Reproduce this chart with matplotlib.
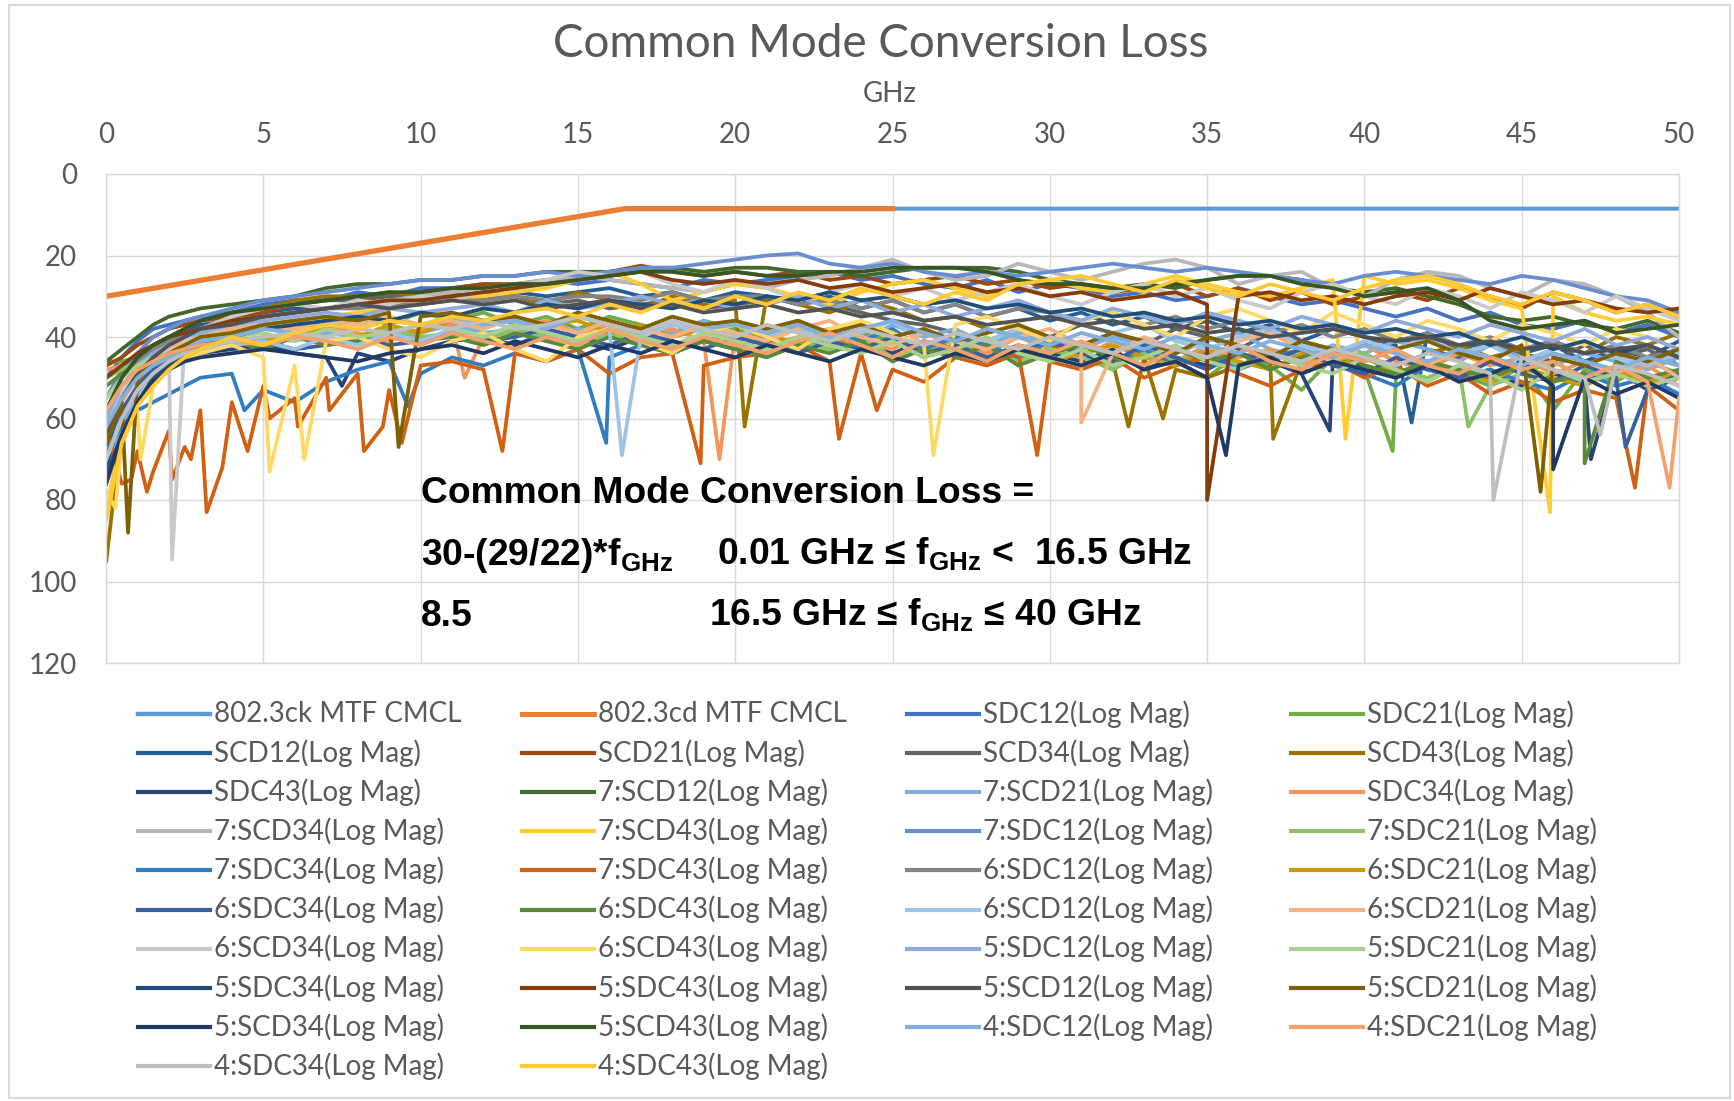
import matplotlib
matplotlib.use("Agg")
import matplotlib.pyplot as plt
from matplotlib.lines import Line2D
from matplotlib.patches import Rectangle

plt.rcParams["font.family"] = ["Lato", "DejaVu Sans"]
plt.rcParams["mathtext.fontset"] = "custom"
plt.rcParams["mathtext.rm"] = "Liberation Sans:bold"

W, H = 1734, 1101
GRAY_TXT = "#595959"
GRID = "#D9D9D9"

# --- data ------------------------------------------------------------------
# limit lines (corner points)
ck_freq = [0.01, 16.5, 50]
ck_vals = [30, 8.5, 8.5]
cd_freq = [0.01, 16.5, 25]
cd_vals = [30, 8.5, 8.5]

# measured traces share one frequency grid (GHz)
FREQ = [0.01, 0.5, 1, 1.5, 2, 2.5] + list(range(3, 51))

sdc12 = [50, 45, 41, 38, 37, 36, 35, 34, 32, 31, 31, 29, 30, 28,
         28, 27, 28, 26, 27, 26, 27, 28, 26, 27, 26, 25, 24, 26, 25, 27,
         28, 26, 29, 27, 28, 30, 29, 31, 30, 28, 30, 32, 31, 33,
         35, 33, 36, 34, 37, 38, 36, 39, 37, 40]
sdc21 = [46, 46, 45, 44, 42, 41, 40, 38, 37, 36, 38, 35, 37, 34,
         36, 34, 37, 35, 38, 35, 37, 39, 36, 38, 40, 37, 42, 39, 41, 45,
         40, 43, 46, 41, 44, 48, 43, 46, 50, 44, 47, 53, 45, 48,
         50, 46, 49, 52, 47, 58, 48, 51, 46, 49]
scd12 = [68, 56, 48, 44, 41, 39, 37, 36, 34, 33, 33, 32, 31, 31,
         30, 31, 29, 30, 29, 28, 30, 29, 31, 29, 30, 32, 30, 33, 31, 34,
         32, 35, 33, 36, 34, 37, 35, 38, 36, 39, 37, 41, 38, 40,
         42, 39, 43, 41, 44, 42, 46, 43, 45, 41]
scd21 = [47, 45, 42, 40, 38, 37, 36, 35, 34, 32, 31, 30, 30, 29,
         28, 27, 27, 26, 25, 24, 22.5, 24, 25, 24, 25, 24, 26, 25, 27, 26,
         25, 27, 26, 28, 27, 29, 28, 27, 30, 28, 31, 29, 32, 30,
         29, 31, 28, 30, 33, 29, 31, 34, 32, 35]
scd34 = [60, 50, 45, 42, 40, 38, 36, 34, 33, 32, 31, 31, 30, 31,
         30, 29, 30, 32, 31, 33, 32, 31, 33, 32, 31, 30, 32, 34, 36, 37,
         39, 41, 38, 40, 37, 39, 42, 38, 40, 43, 39, 41, 44, 42,
         40, 43, 45, 41, 44, 46, 42, 45, 43, 47]
scd43 = [95, 62, 52, 46, 43, 40, 38, 35, 33, 31, 30, 30, 29, 30,
         29, 31, 30, 32, 29, 31, 33, 30, 32, 31, 30, 32, 34, 31, 33, 36,
         35, 38, 40, 42, 44, 46, 45, 48, 50, 47, 44, 46, 43, 45,
         47, 44, 42, 45, 43, 41, 44, 40, 42, 39]
sdc43 = [72, 60, 53, 49, 47, 45, 44, 43, 42, 44, 45, 44, 46, 43,
         41, 40, 42, 39, 41, 43, 40, 42, 41, 39, 41, 43, 40, 42, 44, 41,
         43, 45, 42, 44, 46, 43, 48, 45, 47, 44, 46, 49, 45, 47,
         49, 46, 50, 48, 52, 49, 51, 48, 53, 50]
scd12_7 = [46, 43, 40, 37, 35, 34, 33, 32, 31, 30, 28, 27, 27, 26,
           26, 25, 25, 24, 24, 24, 23, 23, 24, 23, 23, 24, 24, 25, 24, 23,
           23, 23, 24, 26, 27, 28, 27, 28, 26, 25, 25, 26, 28, 29,
           28, 30, 32, 35, 36, 35, 37, 38, 36, 39]
scd21_7 = [75, 62, 54, 48, 45, 43, 42, 41, 40, 41, 39, 40, 38, 39,
           37, 39, 38, 41, 38, 40, 37, 39, 36, 40, 38, 36, 39, 41, 37, 40,
           38, 42, 39, 41, 43, 40, 42, 44, 41, 39, 43, 45, 42, 44,
           41, 43, 46, 42, 45, 47, 44, 46, 48, 45]
sdc34 = [48, 47, 46, 44, 42, 41, 40, 39, 38, 39, 37, 39, 41, 38,
         37, 40, 38, 36, 39, 37, 40, 38, 41, 39, 42, 40, 38, 41, 43, 39,
         42, 44, 40, 43, 45, 41, 44, 46, 42, 45, 43, 47, 44, 42,
         46, 48, 44, 47, 45, 49, 46, 50, 47, 52]
scd34_7 = [65, 55, 48, 44, 42, 40, 38, 36, 35, 34, 33, 32, 31, 30,
           29, 28, 27, 26, 25, 26, 27, 28, 29, 27, 28, 26, 25, 23, 21, 24,
           26, 25, 22, 24, 26, 24, 22, 21, 23, 27, 25, 24, 28, 30,
           26, 24, 25, 28, 30, 26, 27, 30, 34, 40]
scd43_7 = [82, 64, 56, 51, 48, 45, 43, 40, 38, 36, 35, 34, 33, 32,
           31, 30, 29, 28, 26, 24, 27, 31, 29, 27, 28, 30, 32, 29, 27, 26,
           28, 30, 27, 26, 28, 29, 27, 25, 27, 29, 30, 28, 26, 25,
           27, 26, 28, 31, 33, 30, 34, 36, 35, 37]
sdc12_7 = [55, 48, 44, 40, 38, 36, 35, 33, 31, 30, 29, 28, 27, 26,
           26, 25, 25, 24, 25, 24, 23, 23, 22, 21, 20, 19.5, 22, 23, 22, 24,
           25, 24, 25, 24, 23, 22, 23, 24, 23, 24, 25, 26, 27, 25,
           24, 25, 26, 27, 25, 26, 28, 30, 31, 34]
sdc21_7 = [50, 48, 46, 44, 43, 42, 41, 40, 42, 39, 41, 40, 38, 40,
           39, 41, 38, 40, 42, 39, 41, 43, 40, 42, 44, 41, 43, 40, 45, 42,
           44, 41, 46, 43, 45, 48, 44, 46, 43, 47, 45, 49, 46, 44,
           48, 50, 47, 52, 49, 46, 50, 48, 45, 47]
sdc34_7 = [68, 62, 58, 56, 54, 52, 50, 49, 53, 56, 51, 48, 46, 49,
           45, 47, 44, 46, 43, 45, 42, 44, 41, 43, 40, 42, 39, 41, 38, 43,
           40, 42, 45, 41, 44, 46, 43, 47, 44, 48, 45, 43, 46, 49,
           52, 47, 50, 48, 51, 53, 49, 52, 50, 54]
sdc43_7 = [62, 76, 68, 73, 63, 67, 58, 56, 52, 55, 50, 49, 53, 47,
           46, 48, 44, 46, 43, 49, 45, 44, 47, 45, 44, 42, 46, 44, 48, 51,
           45, 47, 44, 46, 48, 45, 50, 47, 45, 49, 52, 48, 46, 50,
           47, 52, 49, 54, 51, 56, 53, 55, 52, 58]
sdc12_6 = [58, 50, 46, 43, 41, 39, 38, 36, 35, 34, 33, 33, 32, 32,
           31, 31, 30, 31, 30, 30, 31, 29, 31, 30, 30, 32, 31, 33, 31, 34,
           32, 35, 33, 34, 36, 34, 37, 35, 38, 36, 39, 37, 40, 38,
           41, 39, 42, 40, 43, 41, 44, 42, 45, 43]
sdc21_6 = [62, 55, 50, 47, 45, 43, 42, 40, 41, 39, 38, 40, 37, 39,
           36, 38, 35, 37, 36, 39, 37, 40, 38, 41, 39, 42, 40, 43, 41, 44,
           42, 45, 43, 46, 44, 42, 45, 47, 43, 46, 48, 44, 47, 45,
           49, 46, 48, 51, 47, 50, 52, 48, 51, 49]
sdc34_6 = [66, 58, 52, 48, 46, 44, 43, 42, 41, 43, 42, 40, 42, 41,
           39, 41, 40, 38, 40, 42, 39, 41, 43, 40, 42, 44, 41, 43, 40, 44,
           42, 45, 43, 41, 44, 46, 42, 45, 48, 44, 46, 43, 47, 49,
           45, 48, 50, 46, 49, 51, 47, 50, 53, 49]
sdc43_6 = [52, 49, 47, 45, 44, 43, 42, 41, 43, 40, 42, 41, 39, 41,
           40, 42, 39, 41, 43, 40, 42, 44, 41, 43, 45, 42, 44, 41, 46, 43,
           45, 42, 47, 44, 42, 45, 47, 43, 46, 44, 48, 45, 43, 47,
           49, 46, 48, 50, 47, 51, 49, 46, 50, 48]
scd12_6 = [70, 60, 53, 49, 46, 44, 43, 42, 41, 43, 40, 42, 39, 41,
           38, 40, 37, 39, 41, 38, 40, 37, 39, 36, 40, 38, 41, 39, 36, 42,
           39, 41, 38, 40, 42, 39, 37, 41, 43, 40, 38, 42, 44, 41,
           43, 40, 44, 42, 46, 43, 41, 45, 47, 44]
scd21_6 = [64, 56, 50, 46, 43, 41, 40, 38, 37, 38, 36, 37, 35, 37,
           36, 38, 35, 37, 39, 36, 38, 40, 37, 39, 41, 38, 36, 40, 42, 39,
           41, 43, 40, 38, 42, 44, 40, 43, 45, 41, 39, 43, 46, 42,
           44, 47, 43, 45, 48, 44, 46, 49, 45, 50]
scd34_6 = [62, 54, 48, 45, 43, 41, 38, 35, 33, 32, 33, 31, 32, 30,
           31, 29, 28, 26, 24, 25, 24, 27, 29, 26, 28, 31, 29, 27, 30, 28,
           31, 29, 27, 30, 32, 29, 27, 30, 28, 31, 33, 29, 27, 30,
           32, 28, 30, 33, 29, 31, 34, 30, 33, 36]
scd43_6 = [78, 66, 58, 52, 48, 46, 44, 42, 45, 47, 41, 40, 43, 45,
           41, 39, 43, 46, 40, 38, 41, 44, 39, 37, 40, 43, 38, 36, 39, 42,
           37, 35, 38, 41, 36, 34, 37, 40, 35, 33, 36, 39, 34, 37,
           40, 36, 38, 41, 37, 39, 42, 38, 40, 43]
sdc12_5 = [60, 52, 47, 44, 42, 40, 39, 37, 36, 35, 34, 35, 33, 34,
           33, 32, 34, 31, 33, 32, 30, 32, 31, 33, 32, 30, 33, 31, 34, 32,
           35, 33, 31, 34, 36, 33, 35, 37, 34, 36, 38, 35, 37, 39,
           36, 38, 40, 37, 39, 41, 38, 42, 40, 43]
sdc21_5 = [55, 50, 47, 45, 44, 42, 41, 40, 39, 41, 38, 40, 39, 37,
           38, 40, 37, 39, 41, 38, 40, 42, 39, 41, 43, 40, 42, 44, 41, 45,
           43, 40, 44, 46, 43, 47, 45, 42, 46, 48, 44, 47, 49, 45,
           48, 51, 47, 49, 53, 48, 51, 49, 52, 50]
sdc34_5 = [74, 64, 56, 50, 47, 44, 42, 40, 38, 37, 36, 35, 36, 34,
           35, 33, 34, 32, 33, 31, 32, 33, 31, 32, 30, 31, 29, 31, 30, 32,
           31, 33, 32, 34, 33, 35, 34, 36, 35, 37, 36, 38, 37, 39,
           38, 40, 39, 42, 40, 43, 41, 44, 42, 45]
sdc43_5 = [50, 47, 44, 42, 40, 39, 38, 36, 35, 34, 33, 32, 31, 31,
           30, 29, 28, 27, 26, 25, 24, 26, 27, 26, 27, 26, 28, 27, 29, 28,
           27, 29, 28, 30, 29, 31, 30, 29, 32, 30, 29, 31, 30, 32,
           30, 29, 31, 28, 30, 32, 31, 33, 34, 33]
scd12_5 = [64, 55, 49, 45, 42, 40, 38, 37, 35, 34, 33, 32, 33, 32,
           31, 32, 31, 33, 32, 31, 33, 32, 34, 33, 32, 34, 33, 35, 34, 36,
           35, 37, 36, 35, 37, 36, 38, 37, 39, 38, 40, 39, 38, 40,
           41, 40, 42, 41, 43, 42, 44, 43, 42, 45]
scd21_5 = [66, 56, 50, 46, 44, 42, 40, 39, 37, 36, 35, 36, 34, 35,
           34, 36, 35, 37, 34, 36, 38, 35, 37, 36, 38, 36, 39, 37, 40, 38,
           41, 39, 37, 40, 42, 39, 41, 44, 40, 42, 45, 41, 43, 46,
           43, 41, 44, 46, 42, 45, 47, 44, 46, 43]
scd34_5 = [76, 64, 56, 51, 48, 46, 45, 44, 43, 44, 45, 46, 44, 43,
           42, 44, 41, 43, 45, 42, 44, 41, 43, 45, 42, 44, 46, 43, 45, 47,
           44, 46, 43, 45, 47, 44, 48, 46, 50, 47, 45, 49, 46, 48,
           50, 47, 51, 49, 46, 52, 50, 54, 51, 55]
scd43_5 = [58, 50, 45, 42, 40, 38, 36, 34, 33, 32, 31, 30, 29, 29,
           28, 28, 27, 27, 26, 25, 24, 24, 25, 24, 25, 25, 24, 24, 23, 23,
           23, 24, 26, 27, 27, 28, 28, 27, 26, 25, 25, 27, 28, 30,
           29, 28, 31, 36, 38, 37, 36, 39, 38, 37]
sdc12_4 = [62, 55, 50, 47, 45, 43, 41, 40, 38, 39, 37, 38, 36, 37,
           35, 37, 36, 38, 35, 37, 39, 36, 38, 37, 39, 37, 40, 38, 36, 39,
           41, 38, 40, 42, 39, 41, 43, 40, 42, 44, 41, 43, 45, 42,
           44, 46, 43, 45, 47, 44, 46, 48, 45, 47]
sdc21_4 = [58, 52, 48, 46, 44, 43, 42, 41, 42, 40, 41, 43, 40, 42,
           39, 41, 43, 40, 42, 38, 41, 43, 40, 42, 44, 41, 39, 42, 45, 41,
           43, 46, 42, 44, 41, 44, 47, 43, 45, 42, 46, 48, 44, 46,
           43, 47, 49, 45, 48, 46, 50, 47, 51, 55]
sdc34_4 = [70, 60, 53, 49, 46, 44, 43, 41, 40, 39, 40, 38, 39, 37,
           38, 36, 38, 37, 35, 37, 39, 36, 38, 40, 37, 39, 41, 38, 40, 42,
           39, 41, 43, 40, 42, 44, 41, 43, 45, 42, 44, 46, 43, 45,
           47, 44, 46, 49, 45, 48, 50, 47, 49, 52]
sdc43_4 = [85, 66, 57, 52, 48, 45, 43, 40, 42, 39, 37, 38, 36, 37,
           35, 36, 34, 33, 35, 32, 34, 31, 33, 30, 32, 29, 31, 28, 30, 32,
           29, 31, 27, 26, 25, 27, 29, 26, 28, 30, 27, 29, 31, 28,
           26, 25, 27, 30, 32, 29, 31, 34, 32, 35]

# narrow resonance dips (GHz, dB)
dips_sdc21 = [(40.9, 68)]
dips_scd12 = [(41.5, 61)]
dips_scd43 = [(20.3, 62), (32.5, 62), (33.6, 60), (37.1, 65)]
dips_sdc43 = [(7.5, 52), (38.9, 63), (47.2, 70)]
dips_sdc34 = [(19.5, 70), (11.4, 50)]
dips_scd43_7 = [(39.4, 65), (45.9, 83)]
dips_sdc21_7 = [(43.3, 62)]
dips_sdc34_7 = [(4.4, 58), (9.6, 57), (15.9, 66)]
dips_sdc43_7 = [(0.8, 75), (1.3, 78), (2.1, 75), (2.7, 70), (3.2, 83),
                (3.7, 72), (4.5, 68), (5.2, 60), (6.1, 62), (7.1, 58),
                (8.2, 68), (8.8, 62), (9.4, 66), (12.6, 68), (18.9, 71),
                (23.3, 65), (24.5, 58), (29.6, 69), (48.6, 77)]
dips_sdc34_6 = [(48.3, 67)]
dips_sdc43_6 = [(47.0, 71)]
dips_scd12_6 = [(16.4, 69)]
dips_scd21_6 = [(31.0, 61)]
dips_scd34_6 = [(2.1, 94.6)]
dips_scd43_6 = [(0.3, 82), (1.1, 70), (5.2, 73), (6.3, 70), (26.3, 69)]
dips_sdc43_5 = [(35.0, 80)]
dips_scd21_5 = [(0.7, 88), (9.3, 67), (45.6, 78)]
dips_scd34_5 = [(35.6, 69), (46.0, 72.5)]
dips_sdc21_4 = [(49.7, 77)]
dips_sdc34_4 = [(44.1, 80), (47.5, 64)]

SERIES = [
    ("SDC12(Log Mag)", "#4472C4", sdc12, []),
    ("SDC21(Log Mag)", "#70AD47", sdc21, dips_sdc21),
    ("SCD12(Log Mag)", "#255E91", scd12, dips_scd12),
    ("SCD21(Log Mag)", "#9E480E", scd21, []),
    ("SCD34(Log Mag)", "#636363", scd34, []),
    ("SCD43(Log Mag)", "#997300", scd43, dips_scd43),
    ("SDC43(Log Mag)", "#264478", sdc43, dips_sdc43),
    ("7:SCD12(Log Mag)", "#43682B", scd12_7, []),
    ("7:SCD21(Log Mag)", "#7CAFDD", scd21_7, []),
    ("SDC34(Log Mag)", "#F1975A", sdc34, dips_sdc34),
    ("7:SCD34(Log Mag)", "#B7B7B7", scd34_7, []),
    ("7:SCD43(Log Mag)", "#FFCD33", scd43_7, dips_scd43_7),
    ("7:SDC12(Log Mag)", "#698ED0", sdc12_7, []),
    ("7:SDC21(Log Mag)", "#8CC168", sdc21_7, dips_sdc21_7),
    ("7:SDC34(Log Mag)", "#327DC2", sdc34_7, dips_sdc34_7),
    ("7:SDC43(Log Mag)", "#D26012", sdc43_7, dips_sdc43_7),
    ("6:SDC12(Log Mag)", "#848484", sdc12_6, []),
    ("6:SDC21(Log Mag)", "#CC9A00", sdc21_6, []),
    ("6:SDC34(Log Mag)", "#3A5FA0", sdc34_6, dips_sdc34_6),
    ("6:SDC43(Log Mag)", "#5A8A39", sdc43_6, dips_sdc43_6),
    ("6:SCD12(Log Mag)", "#9DC3E6", scd12_6, dips_scd12_6),
    ("6:SCD21(Log Mag)", "#F4B183", scd21_6, dips_scd21_6),
    ("6:SCD34(Log Mag)", "#C9C9C9", scd34_6, dips_scd34_6),
    ("6:SCD43(Log Mag)", "#FFD966", scd43_6, dips_scd43_6),
    ("5:SDC12(Log Mag)", "#8FAADC", sdc12_5, []),
    ("5:SDC21(Log Mag)", "#A9D18E", sdc21_5, []),
    ("5:SDC34(Log Mag)", "#1F4E79", sdc34_5, []),
    ("5:SDC43(Log Mag)", "#843C0C", sdc43_5, dips_sdc43_5),
    ("5:SCD12(Log Mag)", "#525252", scd12_5, []),
    ("5:SCD21(Log Mag)", "#7F6000", scd21_5, dips_scd21_5),
    ("5:SCD34(Log Mag)", "#203864", scd34_5, dips_scd34_5),
    ("5:SCD43(Log Mag)", "#375623", scd43_5, []),
    ("4:SDC12(Log Mag)", "#7FB0DE", sdc12_4, []),
    ("4:SDC21(Log Mag)", "#F3A26E", sdc21_4, dips_sdc21_4),
    ("4:SDC34(Log Mag)", "#BFBFBF", sdc34_4, dips_sdc34_4),
    ("4:SDC43(Log Mag)", "#FFC933", sdc43_4, []),
]

CK_LABEL, CK_COLOR = "802.3ck MTF CMCL", "#5B9BD5"
CD_LABEL, CD_COLOR = "802.3cd MTF CMCL", "#ED7D31"


def px(x, y):
    """pixel position (from top-left) -> figure fraction"""
    return x / W, 1 - y / H


fig = plt.figure(figsize=(W / 100, H / 100), dpi=100)
fig.patch.set_facecolor("white")
fig.add_artist(Rectangle(px(9, 1098), (1730 - 9) / W, (1098 - 5) / H,
                         transform=fig.transFigure, fill=False,
                         edgecolor=GRID, lw=1.5))

x0, y0 = px(106, 663)
x1, y1 = px(1679, 174)
ax = fig.add_axes([x0, y0, x1 - x0, y1 - y0])

ax.plot(ck_freq, ck_vals, color=CK_COLOR, lw=2.9)
ax.plot(cd_freq, cd_vals, color=CD_COLOR, lw=3.8)
for label, color, vals, dips in SERIES:
    pts = sorted(list(zip(FREQ, vals)) + dips)
    ax.plot([p[0] for p in pts], [p[1] for p in pts], color=color, lw=2.7,
            solid_joinstyle="round")

ax.set_xlim(0, 50)
ax.set_ylim(120, 0)
ax.set_xticks(range(0, 51, 5))
ax.set_yticks(range(0, 121, 20))
ax.xaxis.tick_top()
ax.tick_params(axis="x", length=0, pad=19, labelsize=20, labelcolor=GRAY_TXT)
ax.tick_params(axis="y", length=0, pad=21, labelsize=20, labelcolor=GRAY_TXT)
ax.grid(color=GRID, lw=1.0)
ax.set_axisbelow(True)
for s in ax.spines.values():
    s.set_color(GRID)
    s.set_linewidth(1.0)

fig.text(*px(881, 44), "Common Mode Conversion Loss", ha="center", va="center",
         fontsize=33, color=GRAY_TXT)
fig.text(*px(890, 94), "GHz", ha="center", va="center", fontsize=20,
         color=GRAY_TXT)

# formula box
ann = dict(fontsize=26.8, fontweight="bold", color="black",
           family=["Liberation Sans", "DejaVu Sans"], va="baseline")
sub = r"f$_{\mathrm{GHz}}$"
fig.text(*px(421, 503), "Common Mode Conversion Loss =", **ann)
fig.text(*px(421, 565), "30-(29/22)*" + sub, **ann)
fig.text(*px(717, 565), "0.01 GHz \u2264 " + sub + " <  16.5 GHz", **ann)
fig.text(*px(421, 626), "8.5", **ann)
fig.text(*px(709, 626), "16.5 GHz \u2264 " + sub + " \u2264 40 GHz", **ann)

# legend, filled row by row like the original
entries = [(CK_LABEL, CK_COLOR, 3.2), (CD_LABEL, CD_COLOR, 3.6)]
entries += [(lab, col, 3.0) for lab, col, _, _ in SERIES]
col_x = [138, 522, 907, 1291]
for k, (lab, col, lw) in enumerate(entries):
    r, c = divmod(k, 4)
    ly = 714 + r * 39.1
    lx = col_x[c]
    fig.add_artist(Line2D([lx / W, (lx + 72) / W], [1 - ly / H] * 2,
                          transform=fig.transFigure, color=col, lw=lw))
    fig.text(*px(lx + 76, ly), lab, va="center", fontsize=20, color=GRAY_TXT)

fig.savefig("out.png", dpi=100, facecolor="white")
